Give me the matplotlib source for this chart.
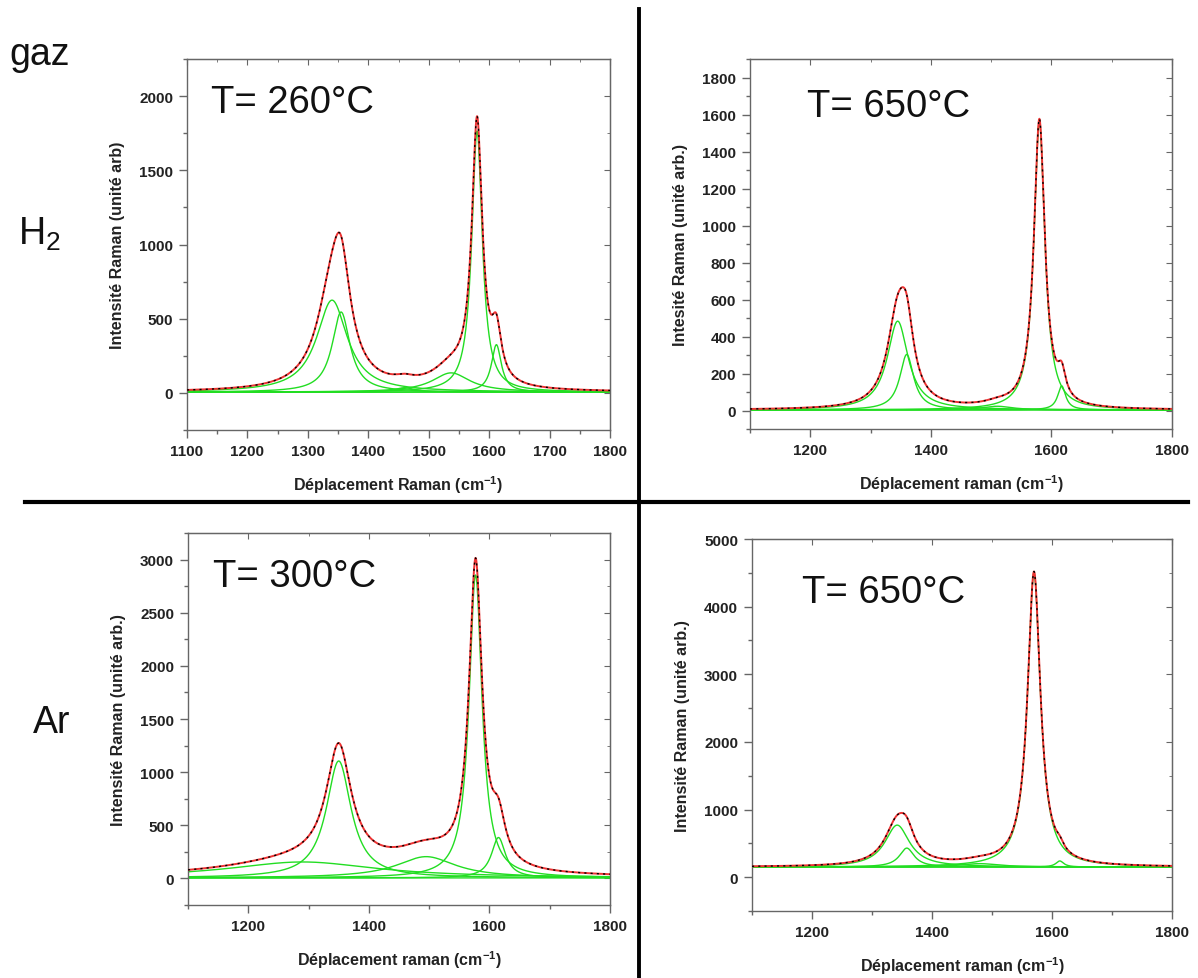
import numpy as np
import matplotlib.pyplot as plt
from matplotlib.ticker import MultipleLocator

plt.rcParams['font.family'] = ['Liberation Sans', 'DejaVu Sans']
plt.rcParams['mathtext.default'] = 'regular'

# nombre d'onde (cm-1)
x = np.linspace(1100, 1800, 1401)

# pics lorentziens : centre, hauteur, demi-largeur
h2_260_centre = [1340, 1355, 1460, 1537, 1580, 1612]
h2_260_haut = [620, 540, 30, 130, 1760, 320]
h2_260_larg = [31, 18, 20, 38, 10.5, 10]
h2_260_fond = 5

h2_650_centre = [1345, 1360, 1510, 1580, 1617]
h2_650_haut = [480, 300, 20, 1560, 130]
h2_650_larg = [21, 14, 30, 11, 8]
h2_650_fond = 3

ar_300_centre = [1290, 1350, 1495, 1577, 1615]
ar_300_haut = [150, 1100, 200, 2850, 380]
ar_300_larg = [150, 25, 60, 13, 14]
ar_300_fond = 5

ar_650_centre = [1342, 1358, 1480, 1570, 1613]
ar_650_haut = [620, 280, 50, 4350, 90]
ar_650_larg = [25, 15, 40, 13, 8]
ar_650_fond = 150

panneaux = [
    dict(pos=[187/1198, 1-431/979, 423/1198, 371/979],
         pics=(h2_260_centre, h2_260_haut, h2_260_larg), fond=h2_260_fond,
         titre='T= 260°C', txt=(0.057, 0.857), ylim=(-250, 2250), ymaj=500, ymin=250,
         xmaj=100, xmin=50,
         ylabel='Intensité Raman (unité arb)', xlabel='Déplacement Raman (cm$^{-1}$)'),
    dict(pos=[750/1198, 1-430/979, 422/1198, 370/979],
         pics=(h2_650_centre, h2_650_haut, h2_650_larg), fond=h2_650_fond,
         titre='T= 650°C', txt=(0.134, 0.846), ylim=(-100, 1900), ymaj=200, ymin=100,
         xmaj=200, xmin=100,
         ylabel='Intesité Raman (unité arb.)', xlabel='Déplacement raman (cm$^{-1}$)'),
    dict(pos=[188/1198, 1-906/979, 422/1198, 372/979],
         pics=(ar_300_centre, ar_300_haut, ar_300_larg), fond=ar_300_fond,
         titre='T= 300°C', txt=(0.059, 0.858), ylim=(-250, 3250), ymaj=500, ymin=250,
         xmaj=200, xmin=100,
         ylabel='Intensité Raman (unité arb.)', xlabel='Déplacement raman (cm$^{-1}$)'),
    dict(pos=[752/1198, 1-912/979, 420/1198, 372/979],
         pics=(ar_650_centre, ar_650_haut, ar_650_larg), fond=ar_650_fond,
         titre='T= 650°C', txt=(0.119, 0.831), ylim=(-500, 5000), ymaj=1000, ymin=500,
         xmaj=200, xmin=100,
         ylabel='Intensité Raman (unité arb.)', xlabel='Déplacement raman (cm$^{-1}$)'),
]


def lorentz(c, h, w):
    return h / (1 + ((x - c) / w) ** 2)


fig = plt.figure(figsize=(11.98, 9.79), dpi=100)

for p in panneaux:
    ax = fig.add_axes(p['pos'])
    centres, hauts, largs = p['pics']
    fond = p['fond']
    total = np.full_like(x, fond, dtype=float)
    # composantes vertes
    ax.plot(x, np.full_like(x, fond, dtype=float), color='#22dd22', lw=1.0, zorder=2)
    for c, h, w in zip(centres, hauts, largs):
        comp = lorentz(c, h, w)
        total += comp
        ax.plot(x, fond + comp, color='#22dd22', lw=1.0, zorder=2)
    # ajustement (rouge) et mesure (noir)
    ax.plot(x, total, color='#ee3333', lw=1.4, zorder=3)
    ax.plot(x, total, color='black', lw=1.0, ls=(0, (1.5, 3)), zorder=4)

    ax.set_xlim(1100, 1800)
    ax.xaxis.set_major_locator(MultipleLocator(p['xmaj']))
    ax.xaxis.set_minor_locator(MultipleLocator(p['xmin']))
    ax.yaxis.set_major_locator(MultipleLocator(p['ymaj']))
    ax.yaxis.set_minor_locator(MultipleLocator(p['ymin']))
    if p['xmaj'] == 200:
        ax.set_xticks([1200, 1400, 1600, 1800])
    ax.set_yticks(np.arange(0, p['ylim'][1] + 1, p['ymaj']))
    ax.set_ylim(*p['ylim'])

    for s in ax.spines.values():
        s.set_color('#666666')
        s.set_linewidth(1.0)
    ax.tick_params(axis='both', which='major', direction='out', length=5.5, width=1,
                   color='#666666', labelsize=11, pad=4.5, labelcolor='#222222')
    ax.tick_params(axis='both', which='minor', direction='out', length=3, width=1,
                   color='#666666')
    for lab in ax.get_xticklabels() + ax.get_yticklabels():
        lab.set_fontweight('bold')

    # axes du haut et de droite, graduations vers l'intérieur
    ax_top = ax.secondary_xaxis('top')
    ax_top.xaxis.set_major_locator(MultipleLocator(p['xmaj']))
    ax_top.xaxis.set_minor_locator(MultipleLocator(p['xmin']))
    ax_top.tick_params(which='major', direction='in', length=4, color='#666666', labeltop=False)
    ax_top.tick_params(which='minor', direction='in', length=2.5, color='#666666')
    ax_top.spines['top'].set_color('#666666')
    ax_right = ax.secondary_yaxis('right')
    ax_right.yaxis.set_major_locator(MultipleLocator(p['ymaj']))
    ax_right.yaxis.set_minor_locator(MultipleLocator(p['ymin']))
    ax_right.tick_params(which='major', direction='in', length=4, color='#666666', labelright=False)
    ax_right.tick_params(which='minor', direction='in', length=2.5, color='#666666')
    ax_right.spines['right'].set_color('#666666')

    ax.set_xlabel(p['xlabel'], fontsize=11.5, fontweight='bold', color='#222222', labelpad=11)
    ax.set_ylabel(p['ylabel'], fontsize=11.5, fontweight='bold', color='#222222', labelpad=10)
    ax.text(p['txt'][0], p['txt'][1], p['titre'], transform=ax.transAxes,
            fontsize=27.5, color='#111111', va='baseline', ha='left')

# étiquettes du gaz
fig.text(9/1198, 1-65/979, 'gaz', fontsize=27, color='#111111', va='baseline', ha='left')
fig.text(18/1198, 1-245/979, 'H$_2$', fontsize=27, color='#111111', va='baseline', ha='left')
fig.text(33/1198, 1-733/979, 'Ar', fontsize=27, color='#111111', va='baseline', ha='left')

# séparateurs
fig.add_artist(plt.Line2D([639/1198, 639/1198], [0, 1-10/979], transform=fig.transFigure,
                          color='black', lw=2.8))
fig.add_artist(plt.Line2D([25/1198, 1188/1198], [1-503/979, 1-503/979], transform=fig.transFigure,
                          color='black', lw=3.0))

fig.savefig('out.png', dpi=100)
